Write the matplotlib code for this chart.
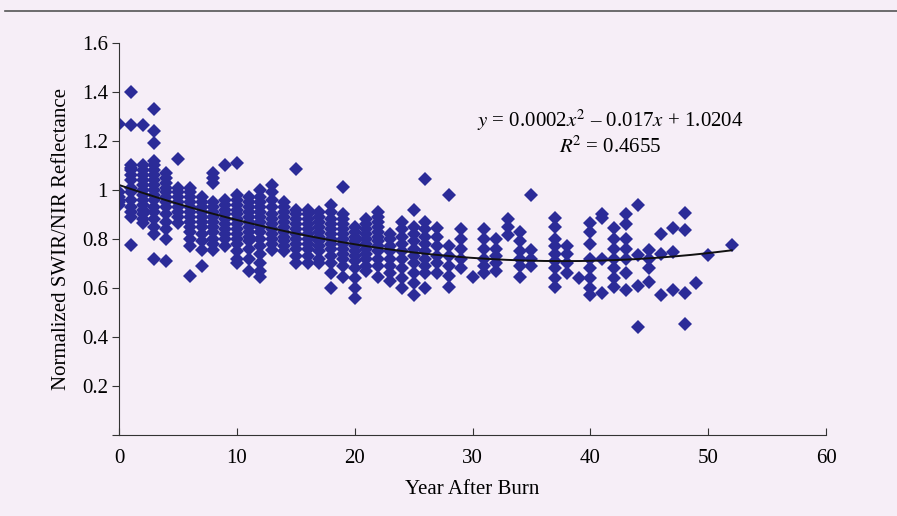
import matplotlib.pyplot as plt
import numpy as np

# scatter values, grouped by year after burn
years = [0, 1, 2, 3, 4, 5, 6, 7, 8, 9, 10, 11, 12, 13, 14, 15, 16, 17, 18, 19,
         20, 21, 22, 23, 24, 25, 26, 27, 28, 29, 30, 31, 32, 33, 34, 35, 37, 38,
         39, 40, 41, 42, 43, 44, 45, 46, 47, 48, 49, 50, 52]
values = [
    [1.27, 0.99, 0.97, 0.96, 0.95, 0.94],
    [1.40, 1.265, 1.10, 1.09, 1.08, 1.06, 1.04, 1.01, 0.99, 0.96, 0.93, 0.91, 0.89, 0.775],
    [1.265, 1.10, 1.08, 1.06, 1.04, 1.02, 1.00, 0.98, 0.96, 0.94, 0.92, 0.90, 0.88, 0.865],
    [1.33, 1.24, 1.19, 1.12, 1.10, 1.08, 1.06, 1.04, 1.02, 1.00, 0.98, 0.96, 0.93, 0.91, 0.88, 0.85, 0.82, 0.72],
    [1.07, 1.05, 1.03, 1.01, 0.99, 0.97, 0.95, 0.93, 0.90, 0.87, 0.84, 0.80, 0.71],
    [1.125, 1.01, 0.99, 0.97, 0.95, 0.93, 0.91, 0.89, 0.865],
    [1.01, 0.99, 0.97, 0.95, 0.93, 0.91, 0.89, 0.87, 0.85, 0.83, 0.80, 0.77, 0.65],
    [0.97, 0.95, 0.93, 0.91, 0.89, 0.87, 0.85, 0.82, 0.79, 0.755, 0.69],
    [1.07, 1.05, 1.03, 0.95, 0.93, 0.91, 0.89, 0.87, 0.85, 0.83, 0.80, 0.78, 0.755],
    [1.10, 0.96, 0.94, 0.92, 0.90, 0.88, 0.86, 0.84, 0.82, 0.80, 0.77],
    [1.11, 0.98, 0.96, 0.94, 0.92, 0.90, 0.88, 0.86, 0.84, 0.82, 0.80, 0.78, 0.75, 0.72, 0.70],
    [0.97, 0.95, 0.93, 0.91, 0.89, 0.87, 0.85, 0.83, 0.81, 0.79, 0.76, 0.72, 0.67],
    [1.00, 0.97, 0.95, 0.93, 0.91, 0.89, 0.87, 0.85, 0.83, 0.80, 0.77, 0.74, 0.70, 0.67, 0.645],
    [1.02, 0.99, 0.96, 0.93, 0.90, 0.88, 0.86, 0.84, 0.82, 0.80, 0.78, 0.755],
    [0.95, 0.93, 0.91, 0.89, 0.87, 0.85, 0.83, 0.81, 0.79, 0.77, 0.75],
    [1.085, 0.92, 0.90, 0.88, 0.86, 0.84, 0.82, 0.80, 0.78, 0.76, 0.73, 0.70],
    [0.92, 0.90, 0.88, 0.86, 0.84, 0.82, 0.80, 0.78, 0.76, 0.73, 0.70],
    [0.91, 0.89, 0.87, 0.85, 0.83, 0.81, 0.79, 0.77, 0.75, 0.72, 0.70],
    [0.94, 0.91, 0.88, 0.86, 0.84, 0.82, 0.80, 0.78, 0.76, 0.73, 0.70, 0.66, 0.60],
    [1.013, 0.90, 0.88, 0.86, 0.84, 0.82, 0.80, 0.78, 0.76, 0.74, 0.72, 0.69, 0.645],
    [0.85, 0.83, 0.81, 0.79, 0.77, 0.75, 0.73, 0.71, 0.68, 0.64, 0.60, 0.56],
    [0.88, 0.86, 0.84, 0.82, 0.80, 0.78, 0.76, 0.74, 0.72, 0.69, 0.67],
    [0.91, 0.89, 0.87, 0.85, 0.83, 0.81, 0.79, 0.77, 0.75, 0.72, 0.69, 0.645],
    [0.82, 0.80, 0.77, 0.75, 0.72, 0.69, 0.66, 0.63],
    [0.87, 0.84, 0.81, 0.78, 0.75, 0.72, 0.68, 0.64, 0.60],
    [0.918, 0.85, 0.82, 0.79, 0.76, 0.73, 0.70, 0.66, 0.62, 0.57],
    [1.044, 0.87, 0.84, 0.81, 0.78, 0.75, 0.72, 0.69, 0.66, 0.60],
    [0.845, 0.81, 0.77, 0.73, 0.70, 0.66],
    [0.98, 0.77, 0.73, 0.69, 0.65, 0.605],
    [0.84, 0.80, 0.76, 0.72, 0.68],
    [0.646],
    [0.84, 0.80, 0.76, 0.72, 0.69, 0.66],
    [0.80, 0.76, 0.73, 0.70, 0.67],
    [0.88, 0.85, 0.816],
    [0.83, 0.79, 0.75, 0.72, 0.69, 0.645],
    [0.98, 0.755, 0.72, 0.69],
    [0.885, 0.85, 0.80, 0.77, 0.74, 0.71, 0.68, 0.64, 0.605],
    [0.77, 0.74, 0.70, 0.66],
    [0.64],
    [0.865, 0.83, 0.78, 0.72, 0.68, 0.64, 0.60, 0.57],
    [0.90, 0.885, 0.72, 0.58],
    [0.845, 0.80, 0.76, 0.72, 0.68, 0.64, 0.605],
    [0.90, 0.86, 0.80, 0.76, 0.72, 0.66, 0.59],
    [0.94, 0.735, 0.61, 0.44],
    [0.755, 0.72, 0.68, 0.625],
    [0.82, 0.74, 0.57],
    [0.845, 0.747, 0.59],
    [0.905, 0.837, 0.58, 0.453],
    [0.62],
    [0.735],
    [0.775],
]

# trend line coefficients (a*x^2 + b*x + c)
trend_coef = [0.000218, -0.01646, 1.0204]
trend_end = 52

xticks = [0, 10, 20, 30, 40, 50, 60]
yticks = [0, 0.2, 0.4, 0.6, 0.8, 1.0, 1.2, 1.4, 1.6]
ytick_labels = ["", "0.2", "0.4", "0.6", "0.8", "1", "1.2", "1.4", "1.6"]

plt.rcParams["font.family"] = "Liberation Serif"
plt.rcParams["mathtext.fontset"] = "stix"

bg = "#f6eef7"
fig = plt.figure(figsize=(8.97, 5.16), dpi=100, facecolor=bg)
ax = fig.add_axes([0.1327, 0.157, 0.7882, 0.7597], facecolor=bg)

x = np.concatenate([[yr] * len(v) for yr, v in zip(years, values)])
y = np.concatenate(values)
ax.plot(x, y, linestyle="none", marker="D", markersize=7,
        color="#2b2b98", markeredgewidth=0)

xs = np.linspace(0, trend_end, 200)
ax.plot(xs, np.polyval(trend_coef, xs), color="#111111", linewidth=1.4)

ax.text(41.7, 1.285, r"$y$ = 0.0002$x^2$ – 0.017$x$ + 1.0204",
        ha="center", va="center", fontsize=15)
ax.text(41.7, 1.175, r"$R^{\!2}$ = 0.4655", ha="center", va="center", fontsize=15)

ax.set_xlim(0, 60)
ax.set_ylim(0, 1.6)
ax.set_xticks(xticks)
ax.set_yticks(yticks)
ax.set_yticklabels(ytick_labels)
ax.tick_params(axis="x", direction="in", length=5, labelsize=15, pad=10, color="#333333")
ax.tick_params(axis="y", direction="out", length=5, labelsize=15, pad=3, color="#333333")
for s in ["top", "right"]:
    ax.spines[s].set_visible(False)
for s in ["left", "bottom"]:
    ax.spines[s].set_color("#333333")

ax.set_xlabel("Year After Burn", fontsize=15, labelpad=9)
ax.set_ylabel("Normalized SWIR/NIR Reflectance", fontsize=15, labelpad=8)

# page rule at the top of the scan
fig.add_artist(plt.Line2D([0.006, 1.0], [0.979, 0.979], color="#555555", linewidth=1.2))

fig.savefig("out.png", dpi=100, facecolor=bg)
